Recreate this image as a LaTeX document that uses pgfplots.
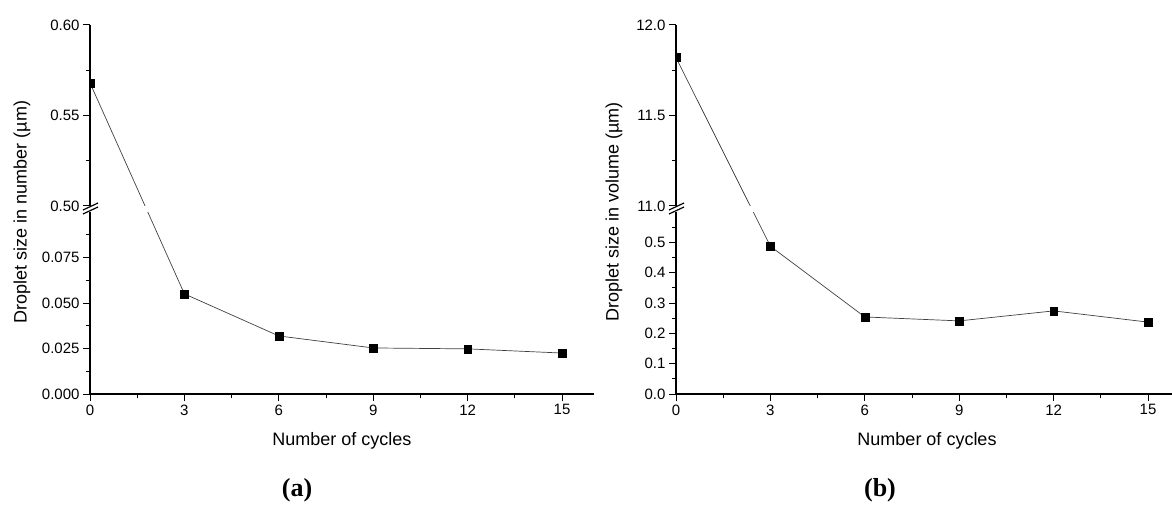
\documentclass[border=0pt]{standalone}
\usepackage{pgfplots}
\pgfplotsset{compat=1.18}
\usepackage{fontspec}
\setmainfont{Liberation Sans}
\newfontfamily\capfont{Liberation Serif}

\pgfplotsset{
  brk/.style={
    scale only axis,
    width=503.5pt,
    xmin=0, xmax=16,
    axis y line*=left,
    tick align=outside,
    major tick length=7pt,
    minor tick length=4pt,
    every tick/.style={black, line width=1pt},
    axis line style={black, line width=1.3pt},
    every tick label/.style={font=\fontsize{15}{17}\selectfont},
    clip marker paths=true,
  },
  upper/.style={brk, height=181pt, axis x line=none, xtick=\empty},
  lower/.style={brk, height=182pt, axis x line*=bottom,
    xtick={0,3,6,9,12,15}, xticklabels={0,3,6,9,12,15},
    minor xtick={1.5,4.5,7.5,10.5,13.5}},
  ln/.style={black!75, line width=0.7pt, mark=none},
  mk/.style={only marks, mark=square*, mark size=3.9pt, black},
}

\begin{document}
\begin{tikzpicture}[x=1pt,y=1pt]
\useasboundingbox (0,0) rectangle (1172,512);

% ---------------- panel (a) ----------------
\begin{axis}[upper, at={(90pt,306pt)}, anchor=south west,
  ymin=0.5, ymax=0.6, ytick={0.5,0.55,0.6}, yticklabels={0.50,0.55,0.60},
  minor ytick={0.525,0.575}]
  \addplot[ln] coordinates {(0,0.568) (3,0.45144)};
  \addplot[mk] coordinates {(0,0.568)};
\end{axis}
\begin{axis}[lower, at={(90pt,118pt)}, anchor=south west,
  ymin=0, ymax=0.1, ytick={0,0.025,0.05,0.075}, yticklabels={0.000,0.025,0.050,0.075},
  minor ytick={0.0125,0.0375,0.0625,0.0875}]
  \addplot[ln] coordinates {(0,0.17092) (3,0.055) (6,0.0319) (9,0.0253) (12,0.0248) (15,0.0225)};
  \addplot[mk] coordinates {(3,0.055) (6,0.0319) (9,0.0253) (12,0.0248) (15,0.0225)};
\end{axis}
\draw[line width=1.2pt] (83,302) -- (98,309);
\draw[line width=1.2pt] (83,298) -- (98,305);
\node[rotate=90, font=\fontsize{18}{20}\selectfont] at (22,300) {Droplet size in number (µm)};
\node[font=\fontsize{18}{20}\selectfont] at (342,71) {Number of cycles};
\node[font=\capfont\bfseries\fontsize{26}{28}\selectfont] at (297,22) {(a)};

% ---------------- panel (b) ----------------
\begin{axis}[upper, at={(676pt,306pt)}, anchor=south west,
  ymin=11, ymax=12, ytick={11,11.5,12}, yticklabels={11.0,11.5,12.0},
  minor ytick={11.25,11.75}]
  \addplot[ln] coordinates {(0,11.82) (3,10.7775)};
  \addplot[mk] coordinates {(0,11.82)};
\end{axis}
\begin{axis}[lower, at={(676pt,118pt)}, anchor=south west,
  ymin=0, ymax=0.6, ytick={0,0.1,0.2,0.3,0.4,0.5}, yticklabels={0.0,0.1,0.2,0.3,0.4,0.5},
  minor ytick={0.05,0.15,0.25,0.35,0.45,0.55}]
  \addplot[ln] coordinates {(0,1.1091) (3,0.487) (6,0.254) (9,0.241) (12,0.274) (15,0.237)};
  \addplot[mk] coordinates {(3,0.487) (6,0.254) (9,0.241) (12,0.274) (15,0.237)};
\end{axis}
\draw[line width=1.2pt] (669,302) -- (684,309);
\draw[line width=1.2pt] (669,298) -- (684,305);
\node[rotate=90, font=\fontsize{18}{20}\selectfont] at (614,300) {Droplet size in volume (µm)};
\node[font=\fontsize{18}{20}\selectfont] at (927,71) {Number of cycles};
\node[font=\capfont\bfseries\fontsize{26}{28}\selectfont] at (880,22) {(b)};
\end{tikzpicture}
\end{document}
